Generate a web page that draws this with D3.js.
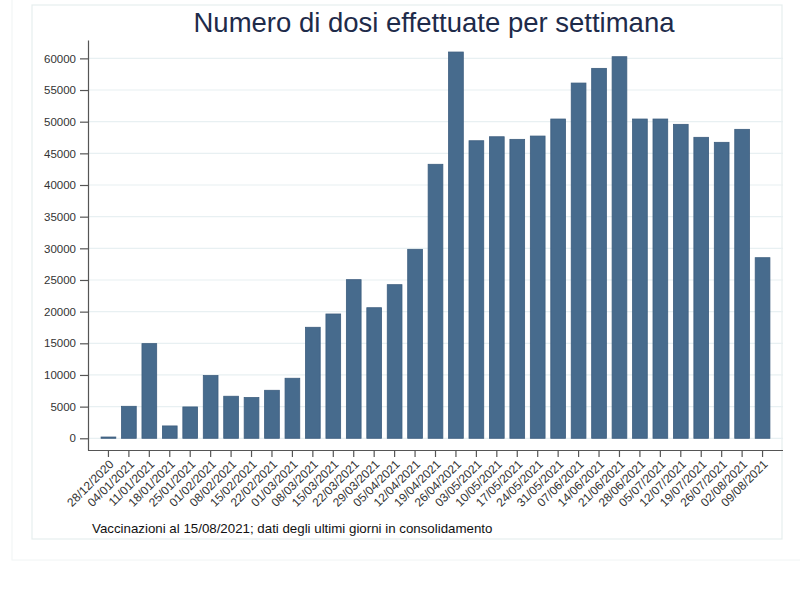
<!DOCTYPE html>
<html lang="it">
  <head>
    <meta charset="UTF-8" />
    <title>Numero di dosi effettuate per settimana</title>
    <style>
      body { margin: 0; background: #fff; }
      text { font-family: 'Liberation Sans', Arial, sans-serif; }
    </style>
  </head>
  <body>
    <script src="https://d3js.org/d3.v7.min.js"></script>
    <script>
      const weeks = [
        '28/12/2020', '04/01/2021', '11/01/2021', '18/01/2021', '25/01/2021',
        '01/02/2021', '08/02/2021', '15/02/2021', '22/02/2021', '01/03/2021',
        '08/03/2021', '15/03/2021', '22/03/2021', '29/03/2021', '05/04/2021',
        '12/04/2021', '19/04/2021', '26/04/2021', '03/05/2021', '10/05/2021',
        '17/05/2021', '24/05/2021', '31/05/2021', '07/06/2021', '14/06/2021',
        '21/06/2021', '28/06/2021', '05/07/2021', '12/07/2021', '19/07/2021',
        '26/07/2021', '02/08/2021', '09/08/2021'
      ]
      const doses = [
        200, 5050, 14950, 1950, 4950, 9900, 6640, 6430, 7580, 9480,
        17530, 19630, 25050, 20620, 24260, 29840, 43270, 61000, 46990, 47620,
        47210, 47730, 50420, 56100, 58420, 60260, 50420, 50420, 49580, 47530,
        46740, 48790, 28520
      ]
      const yTicks = d3.range(0, 60001, 5000)

      const width = 800
      const height = 600

      const svg = d3.select('body').append('svg')
        .attr('width', width)
        .attr('height', height)

      // frames
      svg.append('rect')
        .attr('x', 12).attr('y', -5).attr('width', 800).attr('height', 565)
        .attr('fill', 'none').attr('stroke', '#f0f4f4').attr('stroke-width', 1)
      svg.append('rect')
        .attr('x', 32).attr('y', 5).attr('width', 750).attr('height', 534)
        .attr('fill', '#fff').attr('stroke', '#e6eeee').attr('stroke-width', 1.2)

      const plot = { left: 88, right: 783, top: 40, bottom: 450 }

      const x = d3.scaleBand()
        .domain(weeks)
        .range([plot.left, plot.right])
        .paddingInner(0.28)
        .paddingOuter(0.64)

      const y = d3.scaleLinear()
        .domain([-1850, 62900])
        .range([plot.bottom, plot.top])

      // gridlines
      svg.append('g')
        .selectAll('line')
        .data(yTicks)
        .enter()
        .append('line')
        .attr('x1', plot.left)
        .attr('x2', plot.right)
        .attr('y1', d => y(d))
        .attr('y2', d => y(d))
        .attr('stroke', '#e8f0f2')
        .attr('stroke-width', 1.2)

      // bars
      svg.append('g')
        .selectAll('rect')
        .data(doses)
        .enter()
        .append('rect')
        .attr('x', (d, i) => x(weeks[i]))
        .attr('y', d => y(d))
        .attr('width', x.bandwidth())
        .attr('height', d => y(0) - y(d))
        .attr('fill', '#476b8d')
        .attr('stroke', '#3c5d7e')
        .attr('stroke-width', 0.8)

      const yAxis = g =>
        g
          .attr('transform', `translate(${plot.left},0)`)
          .call(d3.axisLeft(y).tickValues(yTicks).tickFormat(d3.format('d')).tickSize(8).tickPadding(4).tickSizeOuter(0))
          .call(g => g.selectAll('text').attr('font-size', 11.5).attr('fill', '#333').style('font-family', "'Liberation Sans', Arial, sans-serif"))
          .call(g => g.selectAll('line, path').attr('stroke', '#555').attr('stroke-width', 1.2))

      const xAxis = g =>
        g
          .attr('transform', `translate(0,${plot.bottom})`)
          .call(d3.axisBottom(x).tickSize(7).tickSizeOuter(0))
          .call(g => g.select('.domain').attr('d', `M${plot.left},0.5H${plot.right}`))
          .call(g => g.selectAll('line, path').attr('stroke', '#555').attr('stroke-width', 1.2))
          .call(g => g.selectAll('text')
            .attr('font-size', 12)
            .attr('fill', '#333')
            .style('font-family', "'Liberation Sans', Arial, sans-serif")
            .attr('text-anchor', 'end')
            .attr('dy', '0.35em')
            .attr('y', 0)
            .attr('transform', 'translate(3,12) rotate(-45)'))

      svg.append('g').call(yAxis)
      svg.append('g').call(xAxis)

      svg.append('text')
        .attr('x', 434)
        .attr('y', 32)
        .attr('text-anchor', 'middle')
        .attr('font-size', 27.5)
        .attr('fill', '#1e2b4a')
        .text('Numero di dosi effettuate per settimana')

      svg.append('text')
        .attr('x', 92)
        .attr('y', 533)
        .attr('font-size', 13.3)
        .attr('fill', '#111')
        .text('Vaccinazioni al 15/08/2021; dati degli ultimi giorni in consolidamento')
    </script>
  </body>
</html>
